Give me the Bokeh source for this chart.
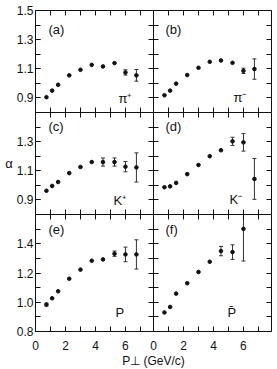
from bokeh.plotting import figure
from bokeh.models import (Range1d, FixedTicker, LinearAxis, Whisker, ColumnDataSource,
                          Label, TeeHead, PrintfTickFormatter)
from bokeh.layouts import gridplot, column
from bokeh.embed import file_html
from bokeh.resources import INLINE

# ---------------- data ----------------
PT = [0.73, 1.11, 1.51, 2.25, 3.0, 3.75, 4.5, 5.27, 6.0, 6.73]

A_PIP = [0.905, 0.95, 0.99, 1.055, 1.093, 1.127, 1.116, 1.139, 1.075, 1.055]
E_PIP = [0, 0, 0, 0, 0, 0, 0, 0, 0.018, 0.04]

A_PIM = [0.918, 0.95, 0.998, 1.057, 1.107, 1.148, 1.157, 1.141, 1.086, 1.098]
E_PIM = [0, 0, 0, 0, 0, 0, 0, 0, 0.018, 0.07]

A_KP = [0.963, 0.996, 1.023, 1.084, 1.126, 1.16, 1.16, 1.16, 1.128, 1.123]
E_KP = [0, 0, 0, 0, 0, 0, 0.028, 0.028, 0.035, 0.10]

A_KM = [0.987, 0.993, 1.017, 1.077, 1.14, 1.2, 1.241, 1.302, 1.295, 1.044]
E_KM = [0, 0, 0, 0, 0, 0, 0, 0.028, 0.06, 0.14]

A_P = [0.984, 1.027, 1.075, 1.161, 1.223, 1.284, 1.293, 1.332, 1.327, 1.327]
E_P = [0.01, 0, 0, 0, 0, 0, 0, 0.018, 0.05, 0.10]

A_PB = [0.93, 0.968, 1.059, 1.13, 1.207, 1.277, 1.35, 1.343, 1.502]
E_PB = [0, 0, 0, 0, 0, 0, 0.032, 0.05, 0.22]

X_TICKS = [0, 2, 4, 6]
X_ALL = [0, 1, 2, 3, 4, 5, 6, 7]
X_MAX = 7.87

Y_RANGES = [(0.8, 1.5), (0.8, 1.5), (0.8, 1.6)]
Y_LABELED = [[0.9, 1.1, 1.3, 1.5], [0.9, 1.1, 1.3], [0.8, 1.0, 1.2, 1.4]]
Y_ALL = [[0.8, 0.9, 1.0, 1.1, 1.2, 1.3, 1.4, 1.5],
         [0.8, 0.9, 1.0, 1.1, 1.2, 1.3, 1.4, 1.5],
         [0.8, 0.9, 1.0, 1.1, 1.2, 1.3, 1.4, 1.5, 1.6]]

LETTERS = ["(a)", "(b)", "(c)", "(d)", "(e)", "(f)"]
LETTER_Y = [1.37, 1.37, 1.404, 1.404, 1.497, 1.497]
LETTER_X = [0.87, 0.8]
PARTICLES = ["π⁺", "π⁻", "K⁺", "K⁻", "P", "P̄"]
PART_X = [5.53, 5.33, 5.2, 5.07, 5.33, 4.93]
PART_Y = [0.896, 0.903, 0.896, 0.903, 0.929, 0.929]

XLABEL = "P⊥ (GeV/c)"
YLABEL = "α"

FONT = "Liberation Sans"
INK = "#111111"

FRAME_W = 118
FRAME_H = [102, 102, 117]
LEFT_B = 35
RIGHT_B = 3


def style_axis(ax):
    ax.major_tick_in = 5
    ax.major_tick_out = 0
    ax.minor_tick_in = 5
    ax.minor_tick_out = 0
    ax.axis_line_color = INK
    ax.major_tick_line_color = INK
    ax.minor_tick_line_color = INK
    ax.axis_line_width = 1
    ax.major_label_text_font = FONT
    ax.major_label_text_font_size = "12px"
    ax.major_label_text_color = INK
    ax.major_label_standoff = 2


def panel(idx, y, err):
    row, col = divmod(idx, 2)
    y0, y1 = Y_RANGES[row]
    p = figure(frame_width=FRAME_W, frame_height=FRAME_H[row],
               x_range=Range1d(0, X_MAX), y_range=Range1d(y0, y1),
               x_axis_location=None, y_axis_location=None,
               toolbar_location=None, output_backend="svg",
               min_border_left=LEFT_B if col == 0 else 0,
               min_border_right=0 if col == 0 else RIGHT_B,
               min_border_top=10 if row == 0 else 0,
               min_border_bottom=8 if row == 2 else 0)
    p.grid.visible = False
    p.outline_line_color = None

    # unlabelled axes: every tick is a minor tick, so no labels are drawn
    for loc in ("below", "above"):
        ax = LinearAxis(ticker=FixedTicker(ticks=[], minor_ticks=X_ALL))
        style_axis(ax)
        p.add_layout(ax, loc)
    for loc in ("left", "right"):
        show = (loc == "left" and col == 0)
        if show:
            ax = LinearAxis(ticker=FixedTicker(ticks=Y_LABELED[row], minor_ticks=Y_ALL[row]),
                            formatter=PrintfTickFormatter(format="%.1f"))
        else:
            ax = LinearAxis(ticker=FixedTicker(ticks=[], minor_ticks=Y_ALL[row]))
        style_axis(ax)
        if show:
            ax.axis_label = YLABEL
            ax.axis_label_text_font = FONT
            ax.axis_label_text_font_size = "13px"
            ax.axis_label_text_font_style = "normal"
            ax.axis_label_text_color = INK
            ax.axis_label_standoff = 1
            if hasattr(ax, "axis_label_orientation"):
                ax.axis_label_orientation = "horizontal"
            if row != 1:
                ax.axis_label_text_alpha = 0
        p.add_layout(ax, loc)

    xs = PT[:len(y)]
    src = ColumnDataSource(dict(x=xs, y=y))
    p.scatter("x", "y", source=src, size=3.6, color=INK)

    ex = [xx for xx, e in zip(xs, err) if e > 0]
    lo = [yy - e for yy, e in zip(y, err) if e > 0]
    hi = [yy + e for yy, e in zip(y, err) if e > 0]
    wsrc = ColumnDataSource(dict(base=ex, lower=lo, upper=hi))
    w = Whisker(base="base", lower="lower", upper="upper", source=wsrc,
                line_color="#333333", line_width=1,
                upper_head=TeeHead(size=4, line_color="#333333", line_width=1),
                lower_head=TeeHead(size=4, line_color="#333333", line_width=1))
    p.add_layout(w)

    p.add_layout(Label(x=LETTER_X[col], y=LETTER_Y[idx], text=LETTERS[idx],
                       text_font=FONT, text_font_size="13px", text_color=INK,
                       text_baseline="middle", text_align="left"))
    p.add_layout(Label(x=PART_X[idx], y=PART_Y[idx], text=PARTICLES[idx],
                       text_font=FONT, text_font_size="13px", text_color=INK,
                       text_baseline="middle", text_align="left"))
    return p


panels = [panel(0, A_PIP, E_PIP), panel(1, A_PIM, E_PIM),
          panel(2, A_KP, E_KP), panel(3, A_KM, E_KM),
          panel(4, A_P, E_P), panel(5, A_PB, E_PB)]

grid = gridplot([[panels[0], panels[1]], [panels[2], panels[3]], [panels[4], panels[5]]],
                toolbar_location=None)

# shared x axis below both bottom panels
shift_ticks = [float(t) for t in X_TICKS] + [round(X_MAX + t, 6) for t in X_TICKS]
overrides = {v: str(t) for v, t in zip(shift_ticks, X_TICKS + X_TICKS)}
axf = figure(frame_width=2 * FRAME_W, frame_height=1,
             x_range=Range1d(0, 2 * X_MAX), y_range=Range1d(0, 1),
             x_axis_location=None, y_axis_location=None,
             toolbar_location=None, output_backend="svg",
             min_border_left=LEFT_B, min_border_right=RIGHT_B,
             min_border_top=0, min_border_bottom=0)
axf.grid.visible = False
axf.outline_line_color = None
xa = LinearAxis(ticker=FixedTicker(ticks=shift_ticks, minor_ticks=[]))
xa.major_label_overrides = overrides
xa.axis_line_color = None
xa.major_tick_line_color = None
xa.minor_tick_line_color = None
xa.major_tick_in = 0
xa.major_tick_out = 0
xa.major_label_standoff = 0
xa.major_label_text_font = FONT
xa.major_label_text_font_size = "12px"
xa.major_label_text_color = INK
xa.axis_label = XLABEL
xa.axis_label_text_font = FONT
xa.axis_label_text_font_size = "12px"
xa.axis_label_text_font_style = "normal"
xa.axis_label_text_color = INK
xa.axis_label_standoff = 1
axf.add_layout(xa, "below")

layout = column(grid, axf)

open("out.html", "w").write(file_html(layout, INLINE))
